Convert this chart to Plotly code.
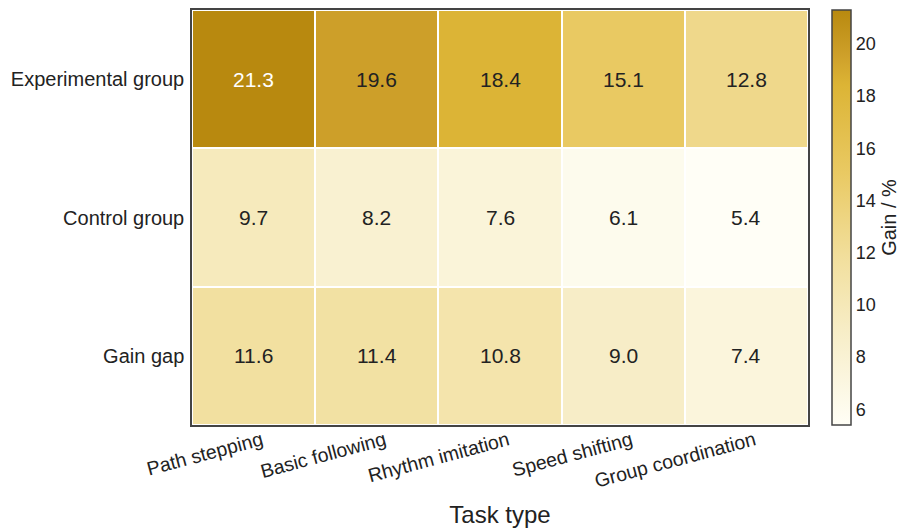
import plotly.graph_objects as go

# Task categories (columns) and groups (rows)
tasks = ["Path stepping", "Basic following", "Rhythm imitation", "Speed shifting", "Group coordination"]
groups = ["Experimental group", "Control group", "Gain gap"]

experimental = [21.3, 19.6, 18.4, 15.1, 12.8]
control = [9.7, 8.2, 7.6, 6.1, 5.4]
gain_gap = [11.6, 11.4, 10.8, 9.0, 7.4]

colorbar_ticks = [6, 8, 10, 12, 14, 16, 18, 20]

z = [experimental, control, gain_gap]
zmin = min(min(r) for r in z)
zmax = max(max(r) for r in z)

gold_scale = [
    [0.00, "#fffef6"],
    [0.23, "#f7edc6"],
    [0.39, "#f2e0a0"],
    [0.47, "#efd88a"],
    [0.61, "#e9c962"],
    [0.82, "#dcb435"],
    [0.89, "#cea02a"],
    [1.00, "#b8890f"],
]

FONT = "Liberation Sans, Arial"
text_colors = [["white" if v > 20.5 else "#222222" for v in row] for row in z]

fig = go.Figure()
fig.add_trace(go.Heatmap(
    z=z, x=tasks, y=groups,
    zmin=zmin, zmax=zmax,
    colorscale=gold_scale,
    xgap=2, ygap=2,
    showscale=True,
    colorbar=dict(
        x=1.039, xanchor="left", xref="paper", xpad=0, ypad=0,
        y=0.5, yanchor="middle", len=1.0, lenmode="fraction",
        thickness=19, outlinewidth=1.5, outlinecolor="#444444",
        tickvals=colorbar_ticks, ticks="", ticklabelposition="outside",
        tickfont=dict(family=FONT, size=18, color="#222222"),
        title=dict(text="Gain / %", side="right",
                   font=dict(family=FONT, size=20, color="#222222")),
    ),
    hoverinfo="skip",
))

for i, g in enumerate(groups):
    for j, t in enumerate(tasks):
        fig.add_annotation(
            x=t, y=g, text=f"{z[i][j]:.1f}", showarrow=False,
            font=dict(family=FONT, size=21, color=text_colors[i][j]),
        )

fig.update_layout(
    width=904, height=528,
    margin=dict(l=192, r=96, t=10, b=103, autoexpand=False),
    paper_bgcolor="white", plot_bgcolor="white",
    font=dict(family=FONT, color="#222222"),
)
fig.update_xaxes(
    tickangle=-15, ticks="", showgrid=False, zeroline=False,
    showline=True, mirror=True, linecolor="#444444", linewidth=1.5,
    tickfont=dict(size=19.5, color="#222222"), ticklabelshift=8, ticklabelstandoff=-5,
    title=dict(text="Task type", font=dict(size=24, color="#222222"), standoff=18),
)
fig.update_yaxes(
    autorange="reversed", ticks="", showgrid=False, zeroline=False,
    showline=True, mirror=True, linecolor="#444444", linewidth=1.5,
    tickfont=dict(size=20, color="#222222"), ticklabelstandoff=2,
)

fig.write_html("out.html")
